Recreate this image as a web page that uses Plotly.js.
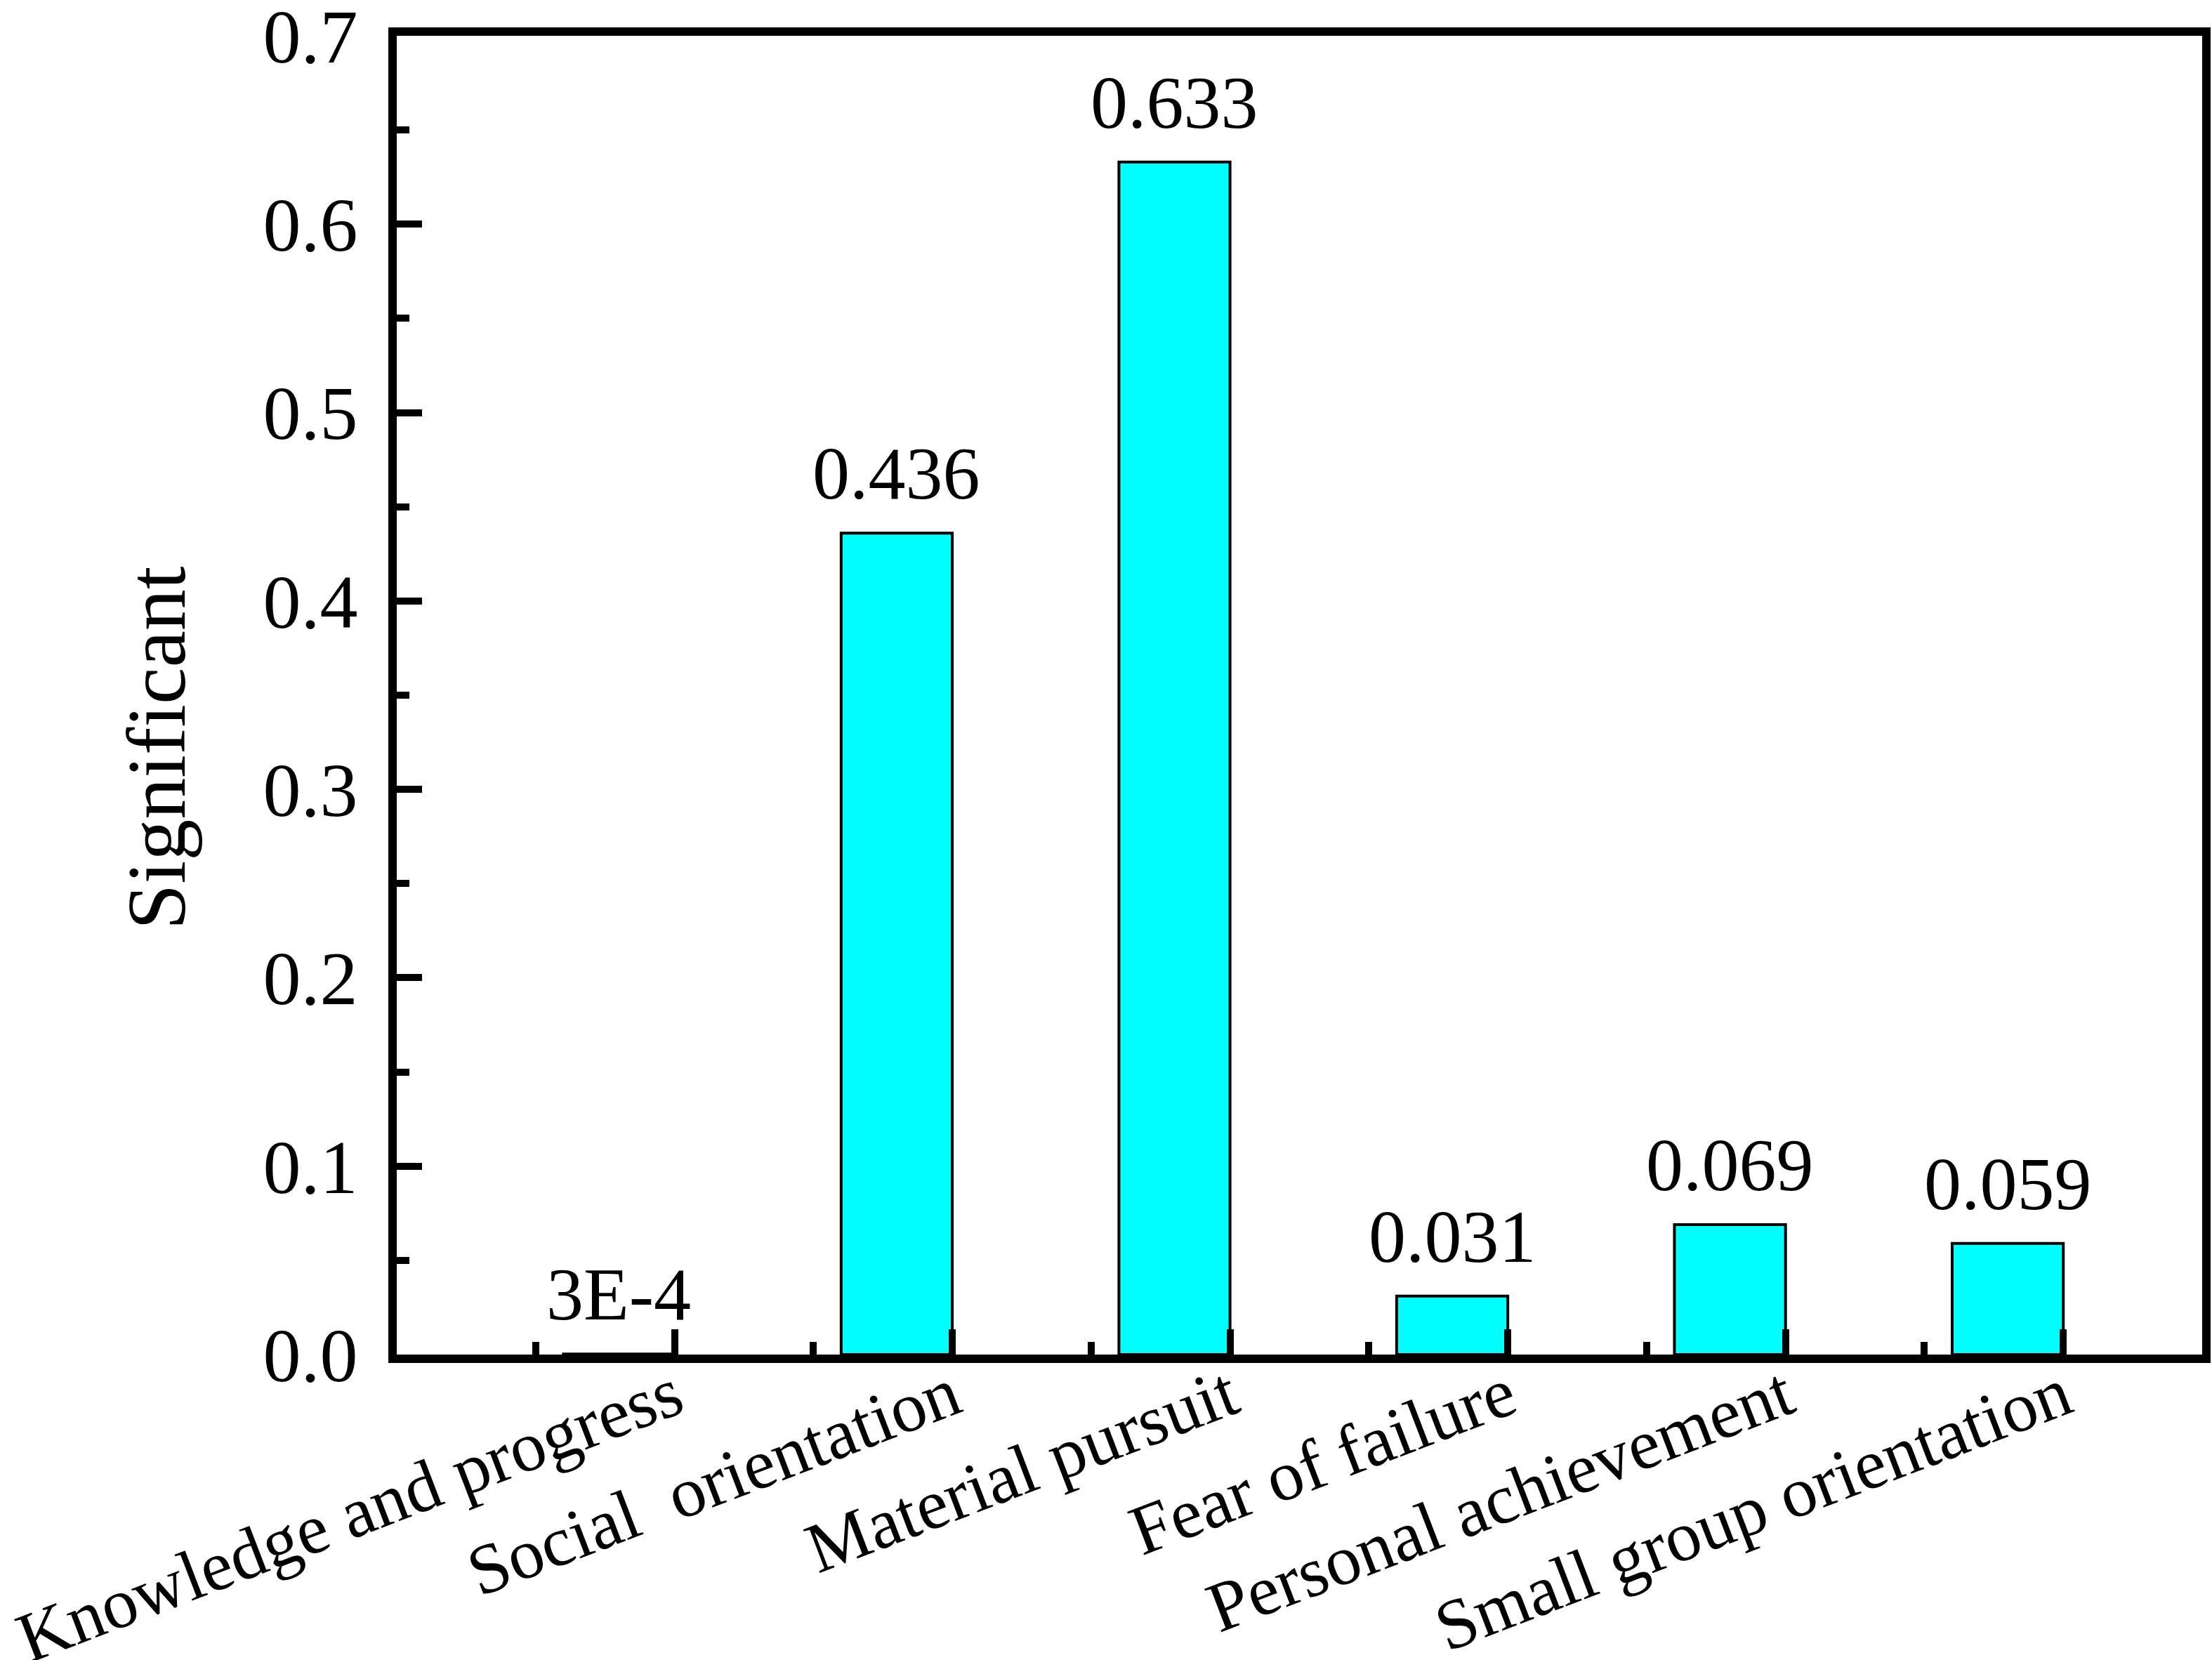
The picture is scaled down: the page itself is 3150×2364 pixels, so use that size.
<!DOCTYPE html>
<html>
<head>
<meta charset="utf-8">
<script src="https://cdn.plot.ly/plotly-3.0.1.min.js"></script>
<style>
  html, body { margin: 0; padding: 0; background: #fff; }
  #chart { width: 3150px; height: 2364px; }
</style>
</head>
<body>
<div id="chart"></div>
<script>
  // data
  var categories = [
    "Knowledge and progress",
    "Social\u00A0 orientation",
    "Material pursuit",
    "Fear of failure",
    "Personal achievement",
    "Small group orientation",
  ];
  var significance = [0.0003, 0.436, 0.633, 0.031, 0.069, 0.059];
  var valueLabels = ["3E-4", "0.436", "0.633", "0.031", "0.069", "0.059"];
  var yTicks = [0, 0.1, 0.2, 0.3, 0.4, 0.5, 0.6, 0.7];

  var positions = categories.map(function (_, i) { return i; });
  var font = "Liberation Serif, Times New Roman, serif";

  var data = [
    {
      type: "bar",
      x: positions,
      y: significance,
      width: 0.4,
      marker: {
        color: "#00FFFF",
        line: { color: "#000", width: 4 },
      },
      hoverinfo: "none",
    },
  ];

  var annotations = positions.map(function (p, i) {
    return {
      x: p,
      y: significance[i],
      xref: "x",
      yref: "y",
      text: valueLabels[i],
      showarrow: false,
      xanchor: "center",
      yanchor: "bottom",
      yshift: 24,
      font: { family: font, size: 106, color: "#000" },
    };
  });

  annotations.push({
    xref: "paper",
    yref: "paper",
    x: -0.133,
    y: 0.46,
    text: "Significant",
    textangle: -90,
    showarrow: false,
    xanchor: "center",
    yanchor: "middle",
    font: { family: font, size: 118, color: "#000" },
  });

  var layout = {
    width: 3150,
    height: 2364,
    showlegend: false,
    plot_bgcolor: "#fff",
    paper_bgcolor: "#fff",
    margin: { l: 565, r: 14, t: 51, b: 435, pad: 0 },
    xaxis: {
      range: [-0.8, 5.7],
      tickmode: "array",
      tickvals: positions.map(function (p) { return p + 0.2; }),
      ticktext: categories,
      tickangle: -21,
      ticks: "inside",
      ticklen: 36,
      tickwidth: 10,
      tickcolor: "#000",
      minor: {
        tickmode: "array",
        tickvals: positions.map(function (p) { return p - 0.3; }),
        ticks: "inside",
        ticklen: 18,
        tickwidth: 10,
        tickcolor: "#000",
      },
      showline: true,
      linewidth: 12,
      linecolor: "#000",
      mirror: true,
      showgrid: false,
      zeroline: false,
      fixedrange: true,
      tickfont: { family: font, size: 101, color: "#000" },
      ticklabelstandoff: -50,
      ticklabeloverflow: "allow",
    },
    yaxis: {
      range: [0, 0.7],
      tickmode: "array",
      tickvals: yTicks,
      tickformat: ".1f",
      ticks: "inside",
      ticklen: 36,
      tickwidth: 10,
      tickcolor: "#000",
      minor: {
        tick0: 0,
        dtick: 0.05,
        ticks: "inside",
        ticklen: 18,
        tickwidth: 10,
        tickcolor: "#000",
      },
      showline: true,
      linewidth: 12,
      linecolor: "#000",
      mirror: true,
      showgrid: false,
      zeroline: false,
      fixedrange: true,
      tickfont: { family: font, size: 108, color: "#000" },
      ticklabelstandoff: 22,
      ticklabeloverflow: "allow",
    },
    annotations: annotations,
  };

  Plotly.newPlot("chart", data, layout, { displayModeBar: false, staticPlot: true });
</script>
</body>
</html>
